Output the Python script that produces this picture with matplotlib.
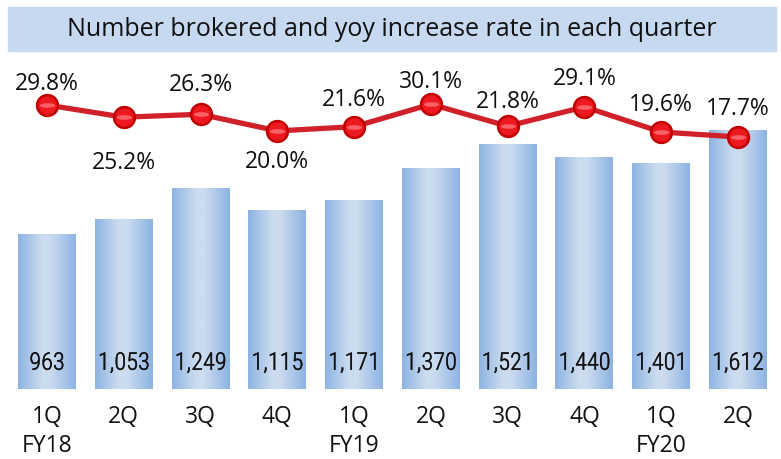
import numpy as np
import matplotlib
matplotlib.use("Agg")
import matplotlib.pyplot as plt
from matplotlib import font_manager
from matplotlib import patheffects
from matplotlib.colors import LinearSegmentedColormap
from matplotlib.patches import Rectangle
from matplotlib.path import Path
from matplotlib.transforms import Affine2D

# data
quarters = ["1Q\nFY18", "2Q", "3Q", "4Q", "1Q\nFY19", "2Q", "3Q", "4Q", "1Q\nFY20", "2Q"]
brokered = [963, 1053, 1249, 1115, 1171, 1370, 1521, 1440, 1401, 1612]
yoy_rate = [29.8, 25.2, 26.3, 20.0, 21.6, 30.1, 21.8, 29.1, 19.6, 17.7]
# where each rate label sits relative to its point (points): above or below
label_offset = [16, -32, 22, -22, 20, 17, 18, 21, 20, 21]

plt.rcParams['font.family'] = ['Open Sans', 'DejaVu Sans']

# pick a narrow face for the numbers inside the bars, if one is around
installed = {f.name for f in font_manager.fontManager.ttflist}
narrow_stretch = {f.name for f in font_manager.fontManager.ttflist
                  if f.stretch in ('condensed', 'semi-condensed', 'extra-condensed')}
narrow = 'DejaVu Sans'
for cand in ['Liberation Sans Narrow', 'Arial Narrow', 'Roboto Condensed',
             'Open Sans Condensed', 'Noto Sans Condensed']:
    if cand in installed:
        narrow = cand
        break
else:
    for cand in ['Noto Sans', 'Open Sans', 'DejaVu Sans', 'Roboto']:
        if cand in narrow_stretch:
            narrow = cand
            break

W, H = 781, 460
fig = plt.figure(figsize=(W / 100, H / 100), dpi=100)

# title strip
fig.patches.append(Rectangle((8 / W, 1 - 52 / H), 768 / W, 44 / H,
                             transform=fig.transFigure, color='#C6D9F1', zorder=0))
fig.text(392 / W, 1 - 30 / H, "Number brokered and yoy increase rate in each quarter",
         ha='center', va='center', fontsize=18, color='#111111')

ax = fig.add_axes([8.6 / W, 70 / H, 767.8 / W, 330 / H])
x = np.arange(len(brokered))

# bars with a horizontal light-in-the-middle gradient
cmap = LinearSegmentedColormap.from_list(
    'bar', [(0, '#8DB3E2'), (0.42, '#CCDCF0'), (0.55, '#CCDCF0'), (1, '#8DB3E2')])
grad = np.linspace(0, 1, 256).reshape(1, -1)
bars = ax.bar(x, brokered, width=0.755, color='none', edgecolor='none')
for b in bars:
    im = ax.imshow(grad, cmap=cmap, aspect='auto', zorder=1,
                   extent=[b.get_x(), b.get_x() + b.get_width(), 0, b.get_height()])
    im.set_clip_path(b)

# light narrow face, thickened a little to look like a regular weight
thicken = [patheffects.withStroke(linewidth=0.3, foreground='#111111')]
for xi, v in zip(x, brokered):
    ax.text(xi, 160, f"{v:,}", ha='center', va='center', fontsize=17.5,
            family=narrow, stretch='condensed', weight='light',
            color='#111111', zorder=3, path_effects=thicken)

ax.set_xlim(-0.5, len(x) - 0.5)
ax.set_ylim(0, 2050)
ax.set_xticks(x)
ax.set_xticklabels(quarters, fontsize=16.5, linespacing=1.28, color='#111111')
ax.tick_params(axis='x', length=0, pad=11)
ax.set_yticks([])
for s in ax.spines.values():
    s.set_visible(False)

# yoy rate line on its own scale
ax2 = ax.twinx()
ax2.plot(x, yoy_rate, color='#D0212A', lw=3.8, zorder=4,
         marker='o', ms=15, mfc='#EE1820', mec='#C00000', mew=1.8)
# glossy stripe across each marker
stripe = Path.unit_circle().transformed(Affine2D().scale(1.0, 0.3))
ax2.plot(x, yoy_rate, ls='none', marker=stripe, ms=11, mfc='#FF7A80', mec='none',
         alpha=0.75, zorder=5)
for xi, v, off in zip(x, yoy_rate, label_offset):
    ax2.annotate(f"{v:.1f}%", (xi, v), xytext=(0, off), textcoords='offset points',
                 ha='center', va='center', fontsize=16.5, color='#111111')
ax2.set_ylim(-77.6, 47.2)
ax2.set_yticks([])
for s in ax2.spines.values():
    s.set_visible(False)

fig.savefig("out.png", dpi=100)
